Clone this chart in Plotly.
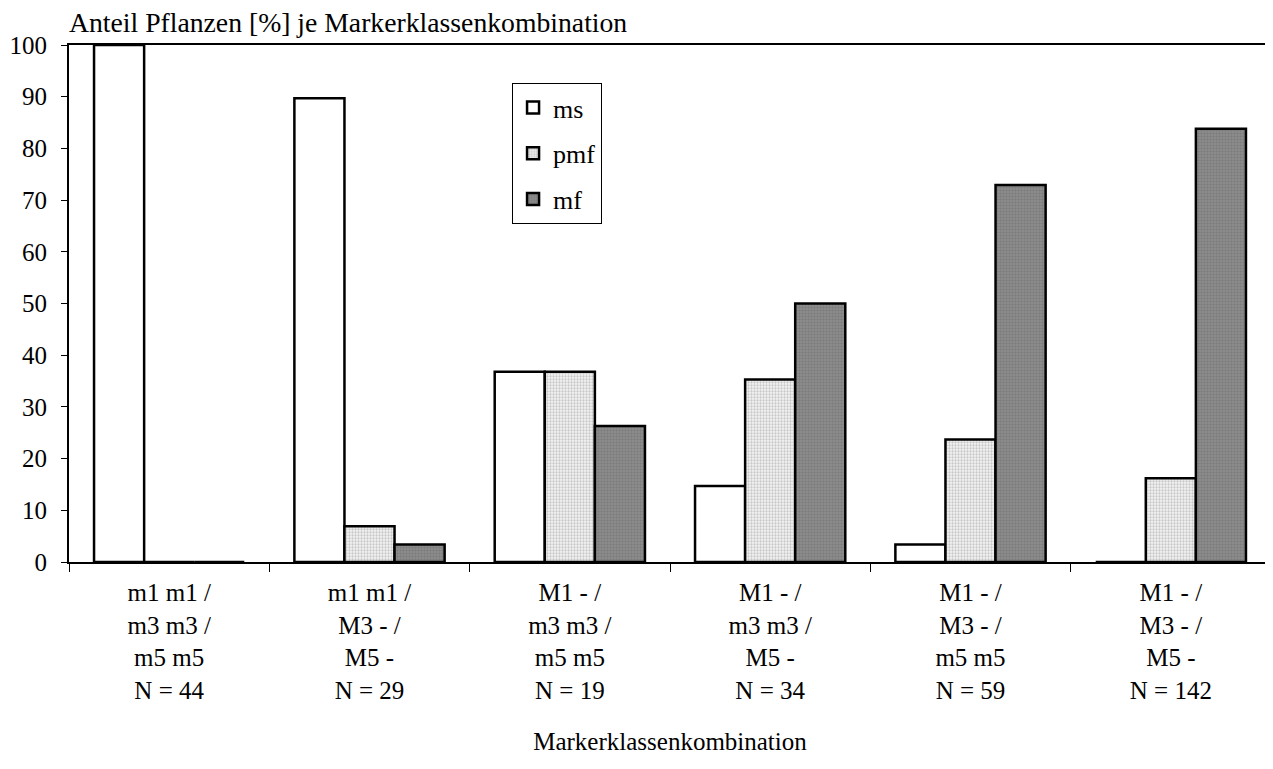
import plotly.graph_objects as go

categories = [
    "m1 m1 /<br>m3 m3 /<br>m5 m5<br>N = 44",
    "m1 m1 /<br>M3 - /<br>M5 -<br>N = 29",
    "M1 - /<br>m3 m3 /<br>m5 m5<br>N = 19",
    "M1 - /<br>m3 m3 /<br>M5 -<br>N = 34",
    "M1 - /<br>M3 - /<br>m5 m5<br>N = 59",
    "M1 - /<br>M3 - /<br>M5 -<br>N = 142",
]
ms = [100.0, 89.7, 36.8, 14.7, 3.4, 0.0]
pmf = [0.0, 6.9, 36.8, 35.3, 23.7, 16.2]
mf = [0.0, 3.4, 26.3, 50.0, 72.9, 83.8]

FONT = "Liberation Serif, Times New Roman, serif"

fig = go.Figure()
fig.add_trace(go.Bar(
    name="ms", x=categories, y=ms, legendgroup="a",
    marker=dict(color="white", line=dict(color="black", width=2.5)),
))
fig.add_trace(go.Bar(
    name="pmf", x=categories, y=pmf, legendgroup="b",
    marker=dict(color="white", line=dict(color="black", width=2.5),
                pattern=dict(shape=".", fgcolor="#9a9a9a", bgcolor="#f4f4f4",
                             size=3, solidity=0.45, fillmode="overlay")),
))
fig.add_trace(go.Bar(
    name="mf", x=categories, y=mf, legendgroup="c",
    marker=dict(color="#8a8a8a", line=dict(color="black", width=2.5),
                pattern=dict(shape=".", fgcolor="#6a6a6a", bgcolor="#8f8f8f",
                             size=3, solidity=0.5, fillmode="overlay")),
))

fig.update_layout(
    width=1265, height=761,
    margin=dict(l=61, r=2, t=37, b=207, autoexpand=False),
    paper_bgcolor="white", plot_bgcolor="white",
    barmode="group", bargap=0.25, bargroupgap=0,
    font=dict(family=FONT, size=25, color="black"),
    showlegend=True,
    legend=dict(x=0.3686, y=0.9265, xanchor="left", yanchor="top",
                bgcolor="white", bordercolor="black", borderwidth=1,
                font=dict(size=26), tracegroupgap=9, itemwidth=30),
)
fig.add_annotation(text="Anteil Pflanzen [%] je Markerklassenkombination",
                   xref="paper", yref="paper", x=0, y=1.0, xanchor="left",
                   yanchor="middle", yshift=23, xshift=-2, showarrow=False,
                   font=dict(size=27.7))

fig.update_xaxes(
    automargin=False,
    showline=True, linecolor="black", linewidth=2, mirror=True,
    ticks="outside", ticklen=8, tickcolor="black", tickwidth=1,
    tickson="boundaries", ticklabelstandoff=7,
    tickfont=dict(size=25),
    title=dict(text="Markerklassenkombination", font=dict(size=25), standoff=30),
    showgrid=False,
)
fig.update_yaxes(
    automargin=False,
    range=[0, 100], dtick=10, tick0=0,
    showline=True, linecolor="black", linewidth=2, mirror=True,
    ticks="outside", ticklen=6, tickcolor="black", tickwidth=1,
    ticklabelstandoff=9, tickfont=dict(size=25),
    showgrid=False, zeroline=False,
)

fig.write_html("out.html")
